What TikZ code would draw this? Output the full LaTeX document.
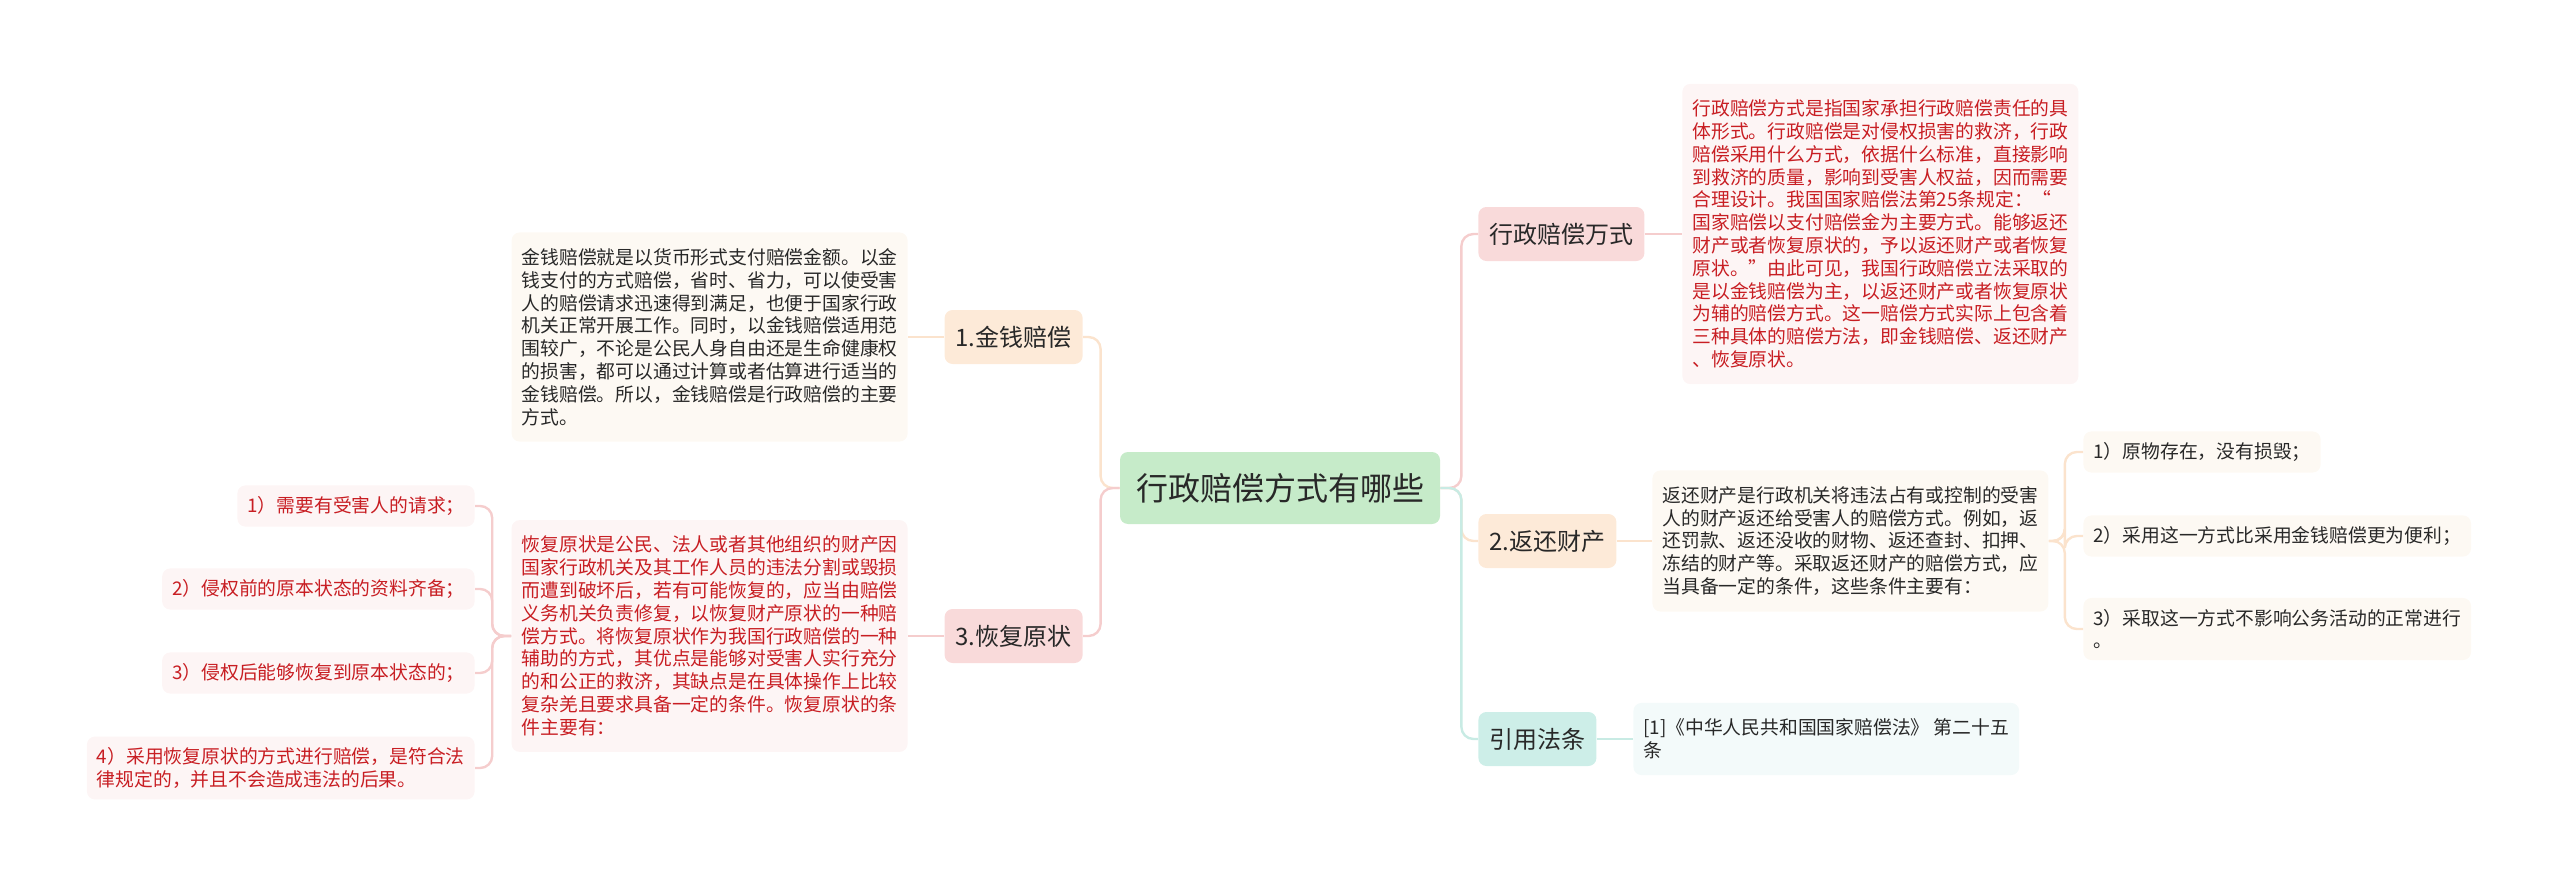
\documentclass[tikz,border=0pt]{standalone}
\usepackage{fontspec}
\setmainfont{Noto Sans CJK SC}
\usepackage{xcolor}
\usepackage{tikz}
\usetikzlibrary{positioning}

\definecolor{rootfill}{RGB}{198,235,201}
\definecolor{pinkfill}{RGB}{249,218,218}
\definecolor{peachfill}{RGB}{253,234,216}
\definecolor{tealfill}{RGB}{205,238,232}
\definecolor{pinkpale}{RGB}{253,245,245}
\definecolor{peachpale}{RGB}{253,249,243}
\definecolor{tealpale}{RGB}{243,250,250}
\definecolor{pinkline}{RGB}{245,205,205}
\definecolor{peachline}{RGB}{251,227,205}
\definecolor{tealline}{RGB}{200,235,228}
\definecolor{textdark}{RGB}{40,40,40}
\definecolor{textred}{RGB}{200,30,35}

\tikzset{
  rootbox/.style={rectangle,rounded corners=4pt,fill=rootfill,text=textdark,
    font=\fontsize{16}{18}\selectfont,minimum width=160pt,minimum height=36pt},
  topicbox/.style={rectangle,rounded corners=4pt,inner xsep=5.5pt,
    minimum height=27pt,text=textdark,font=\fontsize{12}{14}\selectfont},
  notebox/.style={rectangle,rounded corners=4pt,inner xsep=5pt,inner ysep=8pt,
    align=left,font=\fontsize{9.4}{11.4}\selectfont},
  rednote/.style={notebox,fill=pinkpale,text=textred},
  darknote/.style={notebox,fill=peachpale,text=textdark},
  redleaf/.style={rednote,inner ysep=5.5pt},
  darkleaf/.style={darknote,inner ysep=5.5pt},
  link/.style={line width=1.2pt,rounded corners=6pt},
}

\begin{document}
\begin{tikzpicture}[x=0.5pt,y=-0.5pt]
    \useasboundingbox (0,0) rectangle (2560,883);
    % centre
    \node [rootbox] (root) at (1280,488) {行政赔偿方式有哪些};
    % first level, right
    \node [topicbox,fill=pinkfill,anchor=west] (fs) at (1478,234) {行政赔偿万式};
    \node [topicbox,fill=peachfill,anchor=west] (fh) at (1478,541) {2.返还财产};
    \node [topicbox,fill=tealfill,anchor=west] (yy) at (1478,739) {引用法条};
    % first level, left
    \node [topicbox,fill=peachfill,anchor=east] (jq) at (1083,337) {1.金钱赔偿};
    \node [topicbox,fill=pinkfill,anchor=east] (hf) at (1083,636) {3.恢复原状};

    % notes
    \node [rednote,anchor=west] (fsnote) at (1682,234) {行政赔偿方式是指国家承担行政赔偿责任的具\\体形式。行政赔偿是对侵权损害的救济，行政\\赔偿采用什么方式，依据什么标准，直接影响\\到救济的质量，影响到受害人权益，因而需要\\合理设计。我国国家赔偿法第25条规定：“\\国家赔偿以支付赔偿金为主要方式。能够返还\\财产或者恢复原状的，予以返还财产或者恢复\\原状。”由此可见，我国行政赔偿立法采取的\\是以金钱赔偿为主，以返还财产或者恢复原状\\为辅的赔偿方式。这一赔偿方式实际上包含着\\三种具体的赔偿方法，即金钱赔偿、返还财产\\、恢复原状。};
    \node [darknote,anchor=west] (fhnote) at (1652,541) {返还财产是行政机关将违法占有或控制的受害\\人的财产返还给受害人的赔偿方式。例如，返\\还罚款、返还没收的财物、返还查封、扣押、\\冻结的财产等。采取返还财产的赔偿方式，应\\当具备一定的条件，这些条件主要有：};
    \node [notebox,fill=tealpale,text=textdark,anchor=west] (yynote) at (1633,739) {[1]《中华人民共和国国家赔偿法》 第二十五\\条};
    \node [darknote,anchor=east] (jqnote) at (908,337) {金钱赔偿就是以货币形式支付赔偿金额。以金\\钱支付的方式赔偿，省时、省力，可以使受害\\人的赔偿请求迅速得到满足，也便于国家行政\\机关正常开展工作。同时，以金钱赔偿适用范\\围较广，不论是公民人身自由还是生命健康权\\的损害，都可以通过计算或者估算进行适当的\\金钱赔偿。所以，金钱赔偿是行政赔偿的主要\\方式。};
    \node [rednote,anchor=east] (hfnote) at (908,636) {恢复原状是公民、法人或者其他组织的财产因\\国家行政机关及其工作人员的违法分割或毁损\\而遭到破坏后，若有可能恢复的，应当由赔偿\\义务机关负责修复，以恢复财产原状的一种赔\\偿方式。将恢复原状作为我国行政赔偿的一种\\辅助的方式，其优点是能够对受害人实行充分\\的和公正的救济，其缺点是在具体操作上比较\\复杂羌且要求具备一定的条件。恢复原状的条\\件主要有：};

    % conditions of 恢复原状
    \node [redleaf,anchor=east] (hf1) at (475,506) {1）需要有受害人的请求；};
    \node [redleaf,anchor=east] (hf2) at (475,589) {2）侵权前的原本状态的资料齐备；};
    \node [redleaf,anchor=east] (hf3) at (475,673) {3）侵权后能够恢复到原本状态的；};
    \node [redleaf,anchor=east] (hf4) at (475,768) {4）采用恢复原状的方式进行赔偿，是符合法\\律规定的，并且不会造成违法的后果。};
    % conditions of 返还财产
    \node [darkleaf,anchor=west] (fh1) at (2083,452) {1）原物存在，没有损毁；};
    \node [darkleaf,anchor=west] (fh2) at (2083,536) {2）采用这一方式比采用金钱赔偿更为便利；};
    \node [darkleaf,anchor=west] (fh3) at (2083,629) {3）采取这一方式不影响公务活动的正常进行\\。};

    % connectors
    \draw [link,peachline] (root.west) -- ++(-19,0) |- (jq.east);
    \draw [link,pinkline] (root.west) -- ++(-19,0) |- (hf.east);
    \draw [link,pinkline] (root.east) -- ++(21,0) |- (fs.west);
    \draw [link,peachline] (root.east) -- ++(21,0) |- (fh.west);
    \draw [link,tealline] (root.east) -- ++(21,0) |- (yy.west);
    \draw [link,pinkline] (fs.east) -- (fsnote.west);
    \draw [link,peachline] (fh.east) -- (fhnote.west);
    \draw [link,tealline] (yy.east) -- (yynote.west);
    \draw [link,peachline] (jq.west) -- (jqnote.east);
    \draw [link,pinkline] (hf.west) -- (hfnote.east);
    \foreach \n in {hf1,hf2,hf3,hf4}
        \draw [link,pinkline] (hfnote.west) -- ++(-19,0) |- (\n.east);
    \foreach \n in {fh1,fh2,fh3}
        \draw [link,peachline] (fhnote.east) -- ++(16,0) |- (\n.west);
\end{tikzpicture}
\end{document}
